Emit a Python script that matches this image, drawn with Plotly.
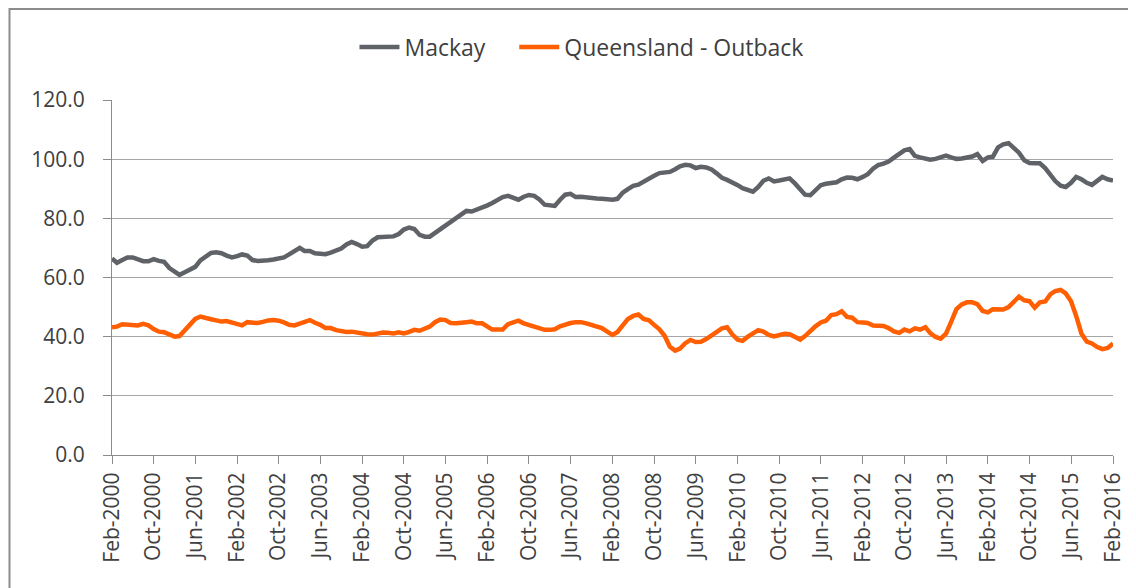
import pandas as pd
import plotly.graph_objects as go

months = pd.date_range("2000-02-01", "2016-02-01", freq="MS")

mackay = [
    66.4, 65.0, 65.9, 66.8, 66.8, 66.0, 65.5, 65.5, 66.2, 65.6,
    65.3, 63.2, 61.8, 60.9, 61.8, 62.8, 63.6, 65.8, 67.2, 68.3,
    68.5, 68.2, 67.4, 66.8, 67.2, 67.8, 67.4, 65.9, 65.6, 65.6,
    65.8, 66.1, 66.4, 66.8, 67.8, 69.0, 70.0, 69.0, 69.0, 68.2,
    67.9, 67.9, 68.4, 69.2, 69.8, 71.2, 72.0, 71.3, 70.4, 70.6,
    72.5, 73.6, 73.8, 73.8, 73.9, 74.7, 76.2, 76.9, 76.4, 74.4,
    73.8, 73.8, 75.0, 76.2, 77.6, 78.9, 80.0, 81.3, 82.5, 82.3,
    82.9, 83.8, 84.4, 85.2, 86.4, 87.2, 87.6, 86.8, 86.3, 87.3,
    87.9, 87.6, 86.4, 84.6, 84.3, 84.2, 86.3, 88.0, 88.3, 87.2,
    87.3, 87.0, 86.9, 86.7, 86.6, 86.4, 86.3, 86.6, 88.7, 89.9,
    91.0, 91.4, 92.5, 93.5, 94.4, 95.3, 95.6, 95.7, 96.6, 97.6,
    98.1, 97.9, 97.0, 97.4, 97.2, 96.5, 95.2, 93.7, 93.0, 92.2,
    91.2, 90.2, 89.6, 89.0, 90.6, 92.7, 93.5, 92.5, 92.8, 93.0,
    93.5, 91.8, 89.6, 88.0, 87.8, 89.6, 91.2, 91.7, 92.0, 92.2,
    93.2, 93.8, 93.7, 93.2, 94.0, 94.9, 96.8, 98.0, 98.5, 99.2,
    100.5, 102.0, 103.0, 103.4, 101.1, 100.6, 100.1, 99.8, 100.1, 100.6,
    101.2, 100.6, 100.1, 100.2, 100.5, 100.9, 101.7, 99.4, 100.6, 100.8,
    104.0, 105.0, 105.4, 104.0, 102.2, 99.6, 98.7, 98.6, 98.6, 97.0,
    94.8, 92.6, 91.0, 90.6, 92.0, 94.0, 93.2, 92.0, 91.3, 92.6,
    94.0, 93.2, 92.8,
]

outback = [
    43.2, 43.4, 44.2, 44.0, 43.7, 43.8, 44.3, 43.8, 42.6, 41.7,
    41.5, 40.6, 40.0, 40.2, 42.0, 44.2, 46.0, 46.8, 46.5, 45.9,
    45.5, 45.1, 45.3, 44.7, 44.0, 43.8, 44.9, 44.9, 44.6, 45.0,
    45.5, 45.6, 45.4, 44.8, 44.0, 43.8, 44.3, 44.8, 45.6, 44.7,
    44.0, 42.9, 42.9, 42.2, 41.9, 41.6, 41.7, 41.3, 40.9, 40.8,
    40.7, 41.0, 41.4, 41.3, 41.1, 41.5, 41.1, 41.6, 42.3, 42.0,
    42.8, 43.4, 44.9, 45.8, 45.6, 44.6, 44.5, 44.9, 44.9, 45.1,
    44.5, 44.5, 43.6, 42.4, 42.4, 42.4, 44.2, 44.6, 45.4, 44.5,
    43.9, 43.2, 42.7, 42.3, 42.3, 42.5, 43.5, 44.1, 44.6, 44.9,
    44.9, 44.5, 44.1, 43.6, 42.9, 41.7, 40.6, 41.6, 43.6, 46.0,
    47.0, 47.5, 46.0, 45.5, 44.0, 42.5, 40.3, 36.6, 35.3, 36.0,
    37.8, 38.9, 38.2, 38.3, 39.2, 40.5, 41.8, 42.8, 43.2, 40.7,
    39.0, 38.6, 40.0, 41.3, 42.2, 41.7, 40.6, 40.1, 40.7, 41.0,
    40.8, 39.8, 39.0, 40.2, 42.0, 43.5, 44.8, 45.4, 47.3, 47.6,
    48.6, 46.7, 46.4, 44.9, 44.8, 44.6, 43.8, 43.7, 43.6, 42.9,
    41.8, 41.3, 42.4, 41.8, 42.8, 42.4, 43.2, 41.2, 39.9, 39.3,
    41.0, 45.0, 49.3, 50.9, 51.6, 51.6, 51.0, 48.7, 48.2, 49.3,
    49.1, 49.2, 50.0, 51.8, 53.5, 52.3, 52.0, 49.8, 51.6, 51.9,
    54.4, 55.4, 55.8, 54.6, 52.0, 47.0, 41.0, 38.3, 37.7, 36.5,
    35.8, 36.2, 37.7,
]

series_names = ["Mackay", "Queensland - Outback"]

FONT = "Open Sans"
GRAY = "#5f6368"
ORANGE = "#ff5f00"

fig = go.Figure()
fig.add_trace(go.Scatter(x=months, y=mackay, mode="lines",
                         name=series_names[0] + "\u00a0\u00a0\u00a0\u00a0",
                         line=dict(color=GRAY, width=4.5)))
fig.add_trace(go.Scatter(x=months, y=outback, mode="lines", name=series_names[1],
                         line=dict(color=ORANGE, width=4.5)))

fig.update_layout(
    width=1136, height=588,
    margin=dict(l=104, r=31, t=92, b=141, autoexpand=False),
    paper_bgcolor="white", plot_bgcolor="white",
    font=dict(family=FONT, color="#404040", size=21),
    legend=dict(orientation="h", x=0.469, xanchor="center", y=1.149, yanchor="middle",
                font=dict(family=FONT, size=23, color="#404040"),
                itemwidth=40, bgcolor="rgba(0,0,0,0)"),
    showlegend=True,
    shapes=[dict(type="rect", xref="paper", yref="paper",
                 x0=-0.1024, x1=1.017, y0=-0.40, y1=1.2563,
                 line=dict(color="#8c8c8c", width=2), fillcolor="rgba(0,0,0,0)",
                 layer="below")],
)

fig.update_xaxes(
    type="date",
    range=[months[0], months[-1]],
    tick0="2000-02-01", dtick="M8", tickformat="%b-%Y",
    tickangle=-90,
    ticks="outside", ticklen=8, tickcolor="#8c8c8c", tickwidth=1,
    showline=True, linecolor="#8c8c8c", linewidth=1,
    showgrid=False, zeroline=False,
    tickfont=dict(family=FONT, size=21, color="#404040"),
)
fig.update_yaxes(
    range=[0, 120], dtick=20, tickformat=".1f",
    ticks="outside", ticklen=8, tickcolor="#8c8c8c", tickwidth=1,
    showline=True, linecolor="#8c8c8c", linewidth=1,
    showgrid=True, gridcolor="#a6a6a6", gridwidth=1,
    zeroline=False,
    ticklabelstandoff=14,
    tickfont=dict(family=FONT, size=21, color="#404040"),
)

fig.write_html("out.html")
